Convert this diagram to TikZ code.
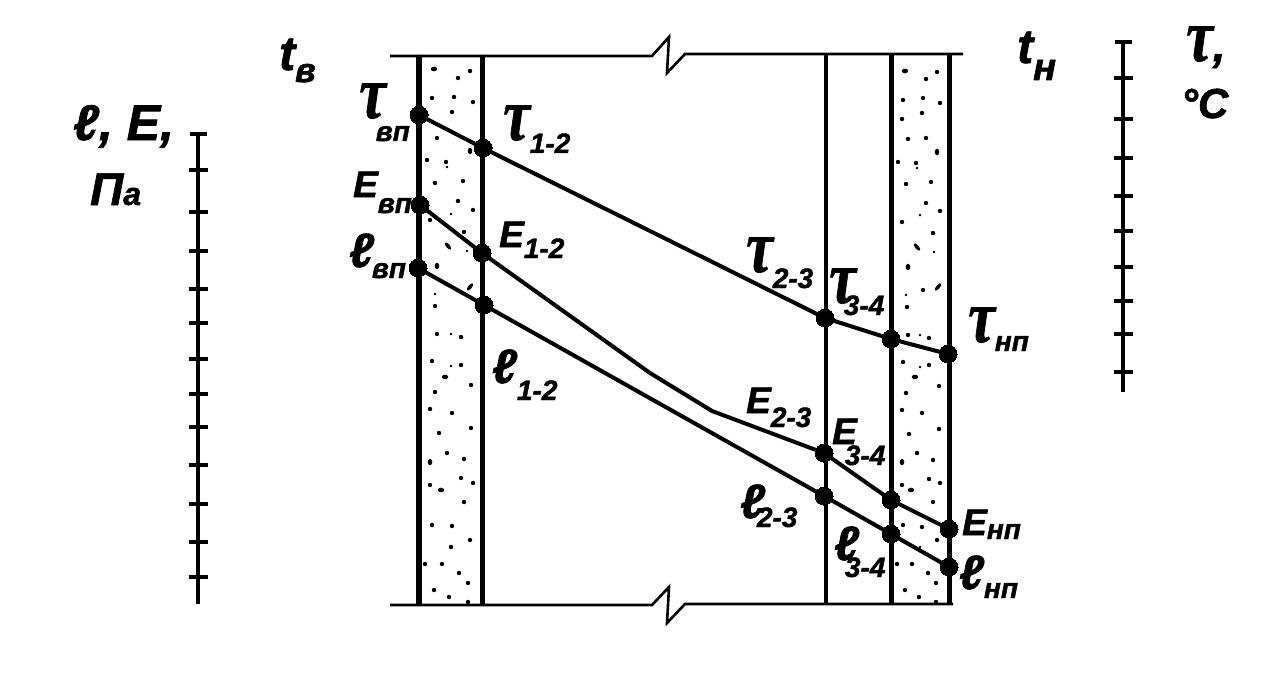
\documentclass[tikz,border=0pt]{standalone}
\usepackage{fontspec}
\setmainfont{Liberation Sans}
\usetikzlibrary{positioning, calc}
\newfontfamily\labbase[BoldItalicFeatures={FakeBold=1.5}]{Liberation Sans}
\newfontfamily\taubase[BoldItalicFeatures={FakeBold=1}]{Liberation Serif}
\newcommand{\mainsize}{\fontsize{37}{37}\selectfont}
\newcommand{\subsize}{\fontsize{28}{28}\selectfont}
\newcommand{\tw}{\scalebox{1}[1.25]{\taubase\bfseries\itshape\fontsize{60}{60}\selectfont τ}}
\newcommand{\ellg}{{\fontsize{48}{48}\selectfont ℓ}}
\newcommand{\lab}[3][14pt]{{\mainsize #2}\raisebox{-#1}{\subsize #3}}
\tikzstyle{wall}=[line width=5pt]
\tikzstyle{thinWall}=[line width=4pt]
\tikzstyle{edgeLine}=[line width=2.6pt]
\tikzstyle{curve}=[line width=4pt, line join=round]
\tikzstyle{dot}=[draw=black,fill=black,circle,minimum size=18pt,inner sep=0pt,line width=0pt]
\tikzstyle{axis}=[line width=4.5pt]
\tikzstyle{tick}=[line width=4pt]
\tikzstyle{lbl}=[anchor=base west,inner sep=0pt,font=\labbase\bfseries\itshape]

\begin{document}
\begin{tikzpicture}[x=1pt,y=-1pt]
        \useasboundingbox (0,0) rectangle (1274,698);

        \foreach \x/\y in {458/78,470/71,432/98,454/97,473/102,452/112,437/138,427/160,446/162,435/183,463/181,458/201,473/210,430/220,464/232,435/306,
                437/334,461/337,432/361,461/365,471/385,435/392,430/409,452/413,471/428,439/433,447/453,464/459,461/478,473/483,430/485,464/502,432/525,452/526,470/540,451/547,425/564,442/564,459/573,468/583,434/590,449/597,468/602,
                926/79,937/72,903/100,923/98,940/103,902/119,922/113,908/139,926/138,898/162,916/163,906/184,931/182,926/203,940/211,902/222,933/233,923/290,907/307,908/335,929/338,
                903/362,929/365,939/386,906/393,902/410,922/413,939/429,909/434,917/453,933/460,929/479,902/485,940/483,933/502,903/525,922/527,937/540,897/564,912/564,928/573,936/583,905/590,919/597,936/602}
            \fill (\x,\y) circle (2.2pt);
        \foreach \x/\y in {447/167,451/214,467/251,435/294,451/334,451/366,917/168,920/215,934/252,906/295,920/335,920/367,920/547}
            \fill (\x,\y) circle (1.3pt);
        \foreach \x/\y/\r in {434/69/0,470/151/90,437/266/90,445/377/0,430/462/90,441/490/0,905/71/0,937/152/90,908/267/90,915/377/0,902/462/90,911/490/0}
            \fill[rotate around={\r:(\x,\y)}] (\x,\y) ellipse (3.2pt and 2.3pt);
        \foreach \x/\y/\r in {448/246/-50,470/287/50,917/247/-50,938/287/50}
            \fill[rotate around={\r:(\x,\y)}] (\x,\y) ellipse (4.4pt and 1.9pt);

        \coordinate (w1t) at (419, 55);
        \coordinate (w1b) at (419, 605);
        \coordinate (w2t) at (482.5, 55);
        \coordinate (w2b) at (482.5, 605);
        \coordinate (w3t) at (826, 55);
        \coordinate (w3b) at (826, 605);
        \coordinate (w4t) at (891, 55);
        \coordinate (w4b) at (891, 605);
        \coordinate (w5t) at (949, 55);
        \coordinate (w5b) at (949, 605);

        \draw[wall, line width=5.5pt] (w1t) -- (w1b);
        \draw[wall] (w2t) -- (w2b);
        \draw[thinWall] (w3t) -- (w3b);
        \draw[wall] (w4t) -- (w4b);
        \draw[wall] (w5t) -- (w5b);

        \draw[edgeLine] (390, 56) -- (652, 56) -- (669, 37) -- (667, 73) -- (685, 54) -- (963, 54);
        \draw[edgeLine] (390, 605) -- (652, 605) -- (669, 587) -- (667, 623) -- (685, 604) -- (953, 604);

        \node[dot] (tvp) at (419, 115) {};
        \node[dot] (t12) at (483, 148) {};
        \node[dot] (t23) at (825, 318) {};
        \node[dot] (t34) at (891, 339) {};
        \node[dot] (tnp) at (948, 354) {};

        \node[dot] (evp) at (420, 205) {};
        \node[dot] (e12) at (482, 253) {};
        \node[dot] (e23) at (824, 453) {};
        \node[dot] (e34) at (891, 500) {};
        \node[dot] (enp) at (949, 529) {};

        \node[dot] (lvp) at (418, 268) {};
        \node[dot] (l12) at (484, 305) {};
        \node[dot] (l23) at (824, 496) {};
        \node[dot] (l34) at (891, 534) {};
        \node[dot] (lnp) at (949, 567) {};

        \coordinate (ebend1) at (650, 373);
        \coordinate (ebend2) at (712, 411);

        \draw[curve] (tvp) -- (t12) -- (t23) -- (t34) -- (tnp);
        \draw[curve] (evp) -- (e12) -- (ebend1) -- (ebend2) -- (e23) -- (e34) -- (enp);
        \draw[curve] (lvp) -- (l12) -- (l23) -- (l34) -- (lnp);

        \coordinate (al) at (198, 134);
        \coordinate (alb) at (198, 604);
        \coordinate (ar) at (1123, 42);
        \coordinate (arb) at (1123, 392);
        \draw[axis] (al) -- (alb);
        \draw[axis] (ar) -- (arb);
        \draw[tick] (190, 134) -- (207, 134);
        \draw[tick] (1115, 42) -- (1132, 42);
        \foreach \y in {170,212,251,289,323,359,394,427,465,504,542,577}
            \draw[tick] (189, \y) -- (208, \y);
        \foreach \y in {78,119,158,196,231,267,301,334,372}
            \draw[tick] (1114, \y) -- (1133, \y);

        \node[lbl] (tv) at (279, 70) {\fontsize{48}{48}\selectfont t\raisebox{-12pt}{\fontsize{34}{34}\selectfont в}};
        \node[lbl] (tn) at (1017, 63) {\fontsize{48}{48}\selectfont t\raisebox{-17pt}{\fontsize{38}{38}\selectfont н}};

        \node[lbl] (ltvp) at (359, 118) {\lab[23pt]{\tw}{\hspace{-10pt}вп}};
        \node[lbl] (lt12) at (503, 140) {\lab[13pt]{\tw}{1-2}};
        \node[lbl] (lt23) at (746, 272) {\lab[16pt]{\tw}{2-3}};
        \node[lbl] (lt34) at (829, 303) {\lab[12pt]{\tw}{\hspace{-12pt}3-4}};
        \node[lbl] (ltnp) at (968, 342) {\lab[9pt]{\tw}{нп}};

        \node[lbl] (levp) at (353, 197) {\lab[16pt]{E}{вп}};
        \node[lbl] (le12) at (499, 247) {\lab[11pt]{E}{1-2}};
        \node[lbl] (le23) at (746, 413) {\lab[14pt]{E}{2-3}};
        \node[lbl] (le34) at (832, 444) {\lab[21pt]{E}{\hspace{-12pt}3-4}};
        \node[lbl] (lenp) at (962, 535) {\lab[4pt]{E}{нп}};

        \node[lbl] (llvp) at (349, 267) {\lab[11pt]{\ellg}{\hspace{-2pt}вп}};
        \node[lbl] (ll12) at (492, 383) {\lab[17pt]{\ellg}{1-2}};
        \node[lbl] (ll23) at (740, 518) {\lab[9pt]{\ellg}{\hspace{-8pt}2-3}};
        \node[lbl] (ll34) at (834, 560) {\lab[17pt]{\ellg}{\hspace{-14pt}3-4}};
        \node[lbl] (llnp) at (959, 589) {\lab[9pt]{\ellg}{нп}};

        \node[lbl] (axl) at (73, 140) {\fontsize{50}{50}\selectfont ℓ, E,};
        \node[lbl] (axp) at (90, 205) {\fontsize{46}{46}\selectfont П\fontsize{32}{32}\selectfont а};
        \node[lbl] (axt) at (1186, 61) {\fontsize{46}{46}\selectfont\tw,};
        \node[lbl] (axc) at (1181, 118) {\fontsize{42}{42}\selectfont °C};
\end{tikzpicture}
\end{document}
